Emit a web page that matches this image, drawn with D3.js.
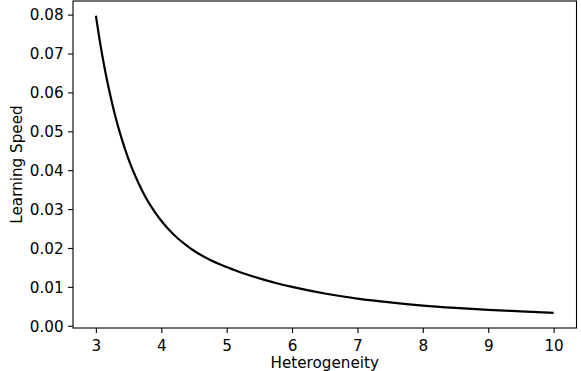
<!DOCTYPE html>
<html>
<head>
<meta charset="utf-8">
<script src="https://cdn.jsdelivr.net/npm/d3@7"></script>
<style>
  html, body { margin: 0; padding: 0; background: #fff; }
  svg { display: block; }
  text { font-family: "DejaVu Sans", sans-serif; fill: #000; }
</style>
</head>
<body>
<svg id="chart" width="581" height="371"></svg>
<script>
// Learning speed measured across heterogeneity levels
const heterogeneity = [3.0, 3.05, 3.1, 3.15, 3.2, 3.25, 3.3, 3.4, 3.5, 3.6, 3.7, 3.8, 3.9, 4.0, 4.1, 4.25, 4.4, 4.5, 4.75, 5.0, 5.25, 5.5, 5.75, 6.0, 6.5, 7.0, 7.5, 8.0, 8.5, 9.0, 9.5, 10.0];
const learningSpeed = [0.0797, 0.0742, 0.0693, 0.0648, 0.0608, 0.0571, 0.0537, 0.0478, 0.0428, 0.0386, 0.0350, 0.0319, 0.0293, 0.0270, 0.0250, 0.0225, 0.0205, 0.0193, 0.0169, 0.0151, 0.0135, 0.0122, 0.0110, 0.0100, 0.0083, 0.0070, 0.0060, 0.0052, 0.0046, 0.0041, 0.0037, 0.0033];
const xTicks = [3, 4, 5, 6, 7, 8, 9, 10];
const yTicks = [0.00, 0.01, 0.02, 0.03, 0.04, 0.05, 0.06, 0.07, 0.08];

const svg = d3.select("#chart");
const W = 581, H = 371;
const margin = { left: 73, right: 4.5, top: 1, bottom: 43 };

const x = d3.scaleLinear().domain([2.65, 10.35]).range([margin.left, W - margin.right]);
const y = d3.scaleLinear().domain([-0.00057, 0.0835]).range([H - margin.bottom, margin.top]);

const fontPx = 15.2;

// Axes
const xAxis = d3.axisBottom(x).tickValues(xTicks).tickFormat(d3.format("d"))
  .tickSizeInner(4.9).tickSizeOuter(0).tickPadding(4.5);
const yAxis = d3.axisLeft(y).tickValues(yTicks).tickFormat(d3.format(".2f"))
  .tickSizeInner(4.9).tickSizeOuter(0).tickPadding(4.5);

const gx = svg.append("g").attr("transform", `translate(0,${H - margin.bottom})`).call(xAxis);
const gy = svg.append("g").attr("transform", `translate(${margin.left},0)`).call(yAxis);

[gx, gy].forEach(g => {
  g.select(".domain").remove();
  g.selectAll(".tick line").attr("stroke", "#000").attr("stroke-width", 1.1);
  g.selectAll(".tick text").style("font-size", fontPx + "px").attr("fill", "#000");
});
gx.selectAll(".tick text").attr("dy", "0.88em");
gy.selectAll(".tick text").attr("dy", "0.35em");

// Frame around the plotting area
svg.append("rect")
  .attr("x", margin.left).attr("y", margin.top)
  .attr("width", W - margin.right - margin.left)
  .attr("height", H - margin.bottom - margin.top)
  .attr("fill", "none").attr("stroke", "#000").attr("stroke-width", 1.1);

// Curve
const line = d3.line()
  .x((d, i) => x(heterogeneity[i]))
  .y(d => y(d))
  .curve(d3.curveMonotoneX);

svg.append("path")
  .datum(learningSpeed)
  .attr("d", line)
  .attr("fill", "none")
  .attr("stroke", "#000")
  .attr("stroke-width", 2.2)
  .attr("stroke-linejoin", "round")
  .attr("stroke-linecap", "butt");

// Axis titles
svg.append("text")
  .attr("x", (margin.left + W - margin.right) / 2)
  .attr("y", 367.5)
  .attr("text-anchor", "middle")
  .style("font-size", fontPx + "px")
  .text("Heterogeneity");

svg.append("text")
  .attr("transform", `translate(21.5,${(margin.top + H - margin.bottom) / 2}) rotate(-90)`)
  .attr("text-anchor", "middle")
  .style("font-size", fontPx + "px")
  .text("Learning Speed");
</script>
</body>
</html>
